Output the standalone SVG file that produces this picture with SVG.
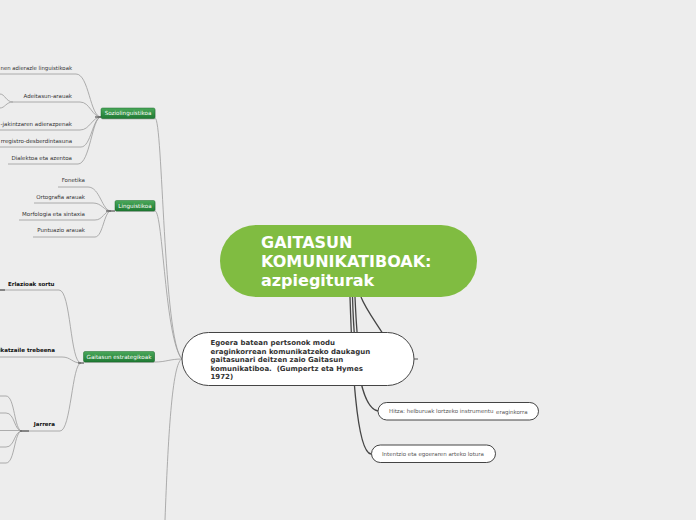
<svg xmlns="http://www.w3.org/2000/svg" width="696" height="520" viewBox="0 0 696 520">
<defs>
<linearGradient id="gr" x1="0" y1="0" x2="0" y2="1">
<stop offset="0" stop-color="#4aa85a"/>
<stop offset="1" stop-color="#1f7a33"/>
</linearGradient>
<style>
.thin{fill:none;stroke:#9a9a9a;stroke-width:0.8}
.stub{fill:none;stroke:#555;stroke-width:1.2}
.dark{fill:none;stroke:#454545;stroke-width:1.3}
.lbl{font-family:"DejaVu Sans",Verdana,sans-serif;font-size:5.5px;fill:#333;text-anchor:end}
.blbl{font-family:"DejaVu Sans",Verdana,sans-serif;font-size:5.5px;font-weight:bold;fill:#111;text-anchor:end}
.gn rect.b{fill:url(#gr);stroke:#1b6b2a;stroke-width:0.5}
.gn rect.s{fill:#bbb}
.gn text{font-family:"DejaVu Sans",Verdana,sans-serif;font-size:5.6px;fill:#fff;text-anchor:middle}
.wn{fill:#fff;stroke:#444;stroke-width:1}
.sm{font-family:"DejaVu Sans",Verdana,sans-serif;font-size:5.5px;fill:#555}
</style>
</defs>
<rect width="696" height="520" fill="#ededed"/>

<g id="connectors">
<!-- central to right nodes -->
<path class="dark" d="M350,297 C352,360 356,452 371,454"/>
<path class="dark" d="M352.5,297 C354,350 360,408 378,411"/>
<path class="dark" d="M355,297 C356,320 357,340 360,360"/>
<path class="dark" d="M361,297 C366,310 376,322 390,345"/>
<!-- white node to left branches -->
<path class="thin" d="M155,118 C163,118 163,340 182,359"/>
<path class="thin" d="M155,211 C163,211 165,340 182,359"/>
<path class="thin" d="M155,362 C166,362 170,359 182,359"/>
<path class="thin" d="M182,359 C172,362 168,440 165,520"/>
<!-- Soziolinguistikoa children -->
<path class="thin" d="M0,74 H76 C89,74 90,117 101,117"/>
<path class="thin" d="M13,102 H80 C90,102 92,117 101,117"/>
<path class="thin" d="M0,130 H80 C90,130 92,117 101,117"/>
<path class="thin" d="M0,147 H81 C91,147 93,117 101,117"/>
<path class="thin" d="M8,164 H78 C90,164 92,117 101,117"/>
<path class="thin" d="M13,102 C6,102 5,94 0,94"/>
<path class="thin" d="M13,102 C6,102 5,108 0,108"/>
<path class="stub" d="M95,117 H101"/>
<!-- Linguistikoa children -->
<path class="thin" d="M58,187 H88 C100,187 102,211 111,211"/>
<path class="thin" d="M34,203 H93 C102,203 104,211 111,211"/>
<path class="thin" d="M19,220 H95 C103,220 104,211 111,211"/>
<path class="thin" d="M33,237 H95 C103,237 104,211 111,211"/>
<path class="stub" d="M106,211 H115"/>
<!-- Gaitasun estrategikoak children -->
<path class="thin" d="M0,290 H59 C71,290 70,363 81,363"/>
<path class="thin" d="M0,357 H62 C71,357 72,363 81,363"/>
<path class="thin" d="M22,431 H60 C71,431 72,363 81,363"/>
<path class="stub" d="M0,290 H5"/>
<path class="stub" d="M78,363 H84"/>
<!-- Jarrera children -->
<path class="thin" d="M0,396 H6 C15,396 14,431 22,431"/>
<path class="thin" d="M0,413 H6 C15,413 14,431 22,431"/>
<path class="thin" d="M0,430.5 H22"/>
<path class="thin" d="M0,447 H6 C15,447 14,431 22,431"/>
<path class="thin" d="M0,463 H6 C15,463 14,431 22,431"/>
<path class="stub" d="M20,431 H29"/>
</g>

<g id="central">
<rect x="220" y="225" width="257" height="72" rx="36" fill="#80bc41"/>
<text font-family="'DejaVu Sans',Verdana,sans-serif" font-size="16" font-weight="bold" fill="#fff">
<tspan x="261" y="248.3">GAITASUN</tspan>
<tspan x="261" y="267.3">KOMUNIKATIBOAK:</tspan>
<tspan x="261" y="286">azpiegiturak</tspan>
</text>
</g>

<g id="definizioa">
<rect class="wn" x="182" y="332.5" width="232" height="53" rx="26.5"/>
<line x1="414" y1="359" x2="418" y2="359" stroke="#555" stroke-width="1"/>
<text font-family="'DejaVu Sans',Verdana,sans-serif" font-size="7" font-weight="bold" fill="#333">
<tspan x="210.5" y="345.3">Egoera batean pertsonok modu</tspan>
<tspan x="210.5" y="353.8">eraginkorrean komunikatzeko daukagun</tspan>
<tspan x="210.5" y="362.3">gaitasunari deitzen zaio Gaitasun</tspan>
<tspan x="210.5" y="370.8">komunikatiboa.&#160; (Gumpertz eta Hymes</tspan>
<tspan x="210.5" y="379.3">1972)</tspan>
</text>
</g>

<g id="hitza">
<rect class="wn" x="378" y="402.5" width="160.5" height="17.5" rx="8.75"/>
<text class="sm" x="389" y="412.7">Hitza: helburuak lortzeko instrumentu</text>
<text class="sm" x="496" y="414.2">eraginkorra</text>
</g>

<g id="intentzio">
<rect class="wn" x="371.5" y="445" width="124" height="17.5" rx="8.75"/>
<text class="sm" x="382" y="455.5">Intentzio eta egoeraren arteko lotura</text>
</g>

<g id="soziolinguistikoa" class="gn">
<rect class="s" x="101.5" y="109" width="54" height="10.5" rx="1.5"/>
<rect class="b" x="101" y="108" width="54" height="10.5" rx="1.5"/>
<text x="128" y="115.3">Soziolinguistikoa</text>
</g>
<g id="linguistikoa" class="gn">
<rect class="s" x="115.5" y="201.5" width="40" height="10.5" rx="1.5"/>
<rect class="b" x="115" y="200.5" width="40" height="10.5" rx="1.5"/>
<text x="135" y="207.8">Linguistikoa</text>
</g>
<g id="estrategikoak" class="gn">
<rect class="s" x="84" y="352.5" width="71" height="10.5" rx="1.5"/>
<rect class="b" x="83.5" y="351.5" width="71" height="10.5" rx="1.5"/>
<text x="119" y="358.8">Gaitasun estrategikoak</text>
</g>

<g id="sozio-children">
<text class="lbl" x="0.5" y="69.5" style="text-anchor:start" textLength="71.5" lengthAdjust="spacingAndGlyphs">nen adierazle linguistikoak</text>
<text class="lbl" x="72" y="97.5">Adeitasun-arauak</text>
<text class="lbl" x="72" y="125.7">-jakintzaren adierazpenak</text>
<text class="lbl" x="72" y="142.5">rregistro-desberdintasuna</text>
<text class="lbl" x="72" y="159.5">Dialektoa eta azentoa</text>
</g>
<g id="ling-children">
<text class="lbl" x="85" y="182">Fonetika</text>
<text class="lbl" x="85" y="198.5">Ortografia arauak</text>
<text class="lbl" x="85" y="215.5">Morfologia eta sintaxia</text>
<text class="lbl" x="85" y="232">Puntuazio arauak</text>
</g>
<g id="estr-children">
<text class="blbl" x="54.5" y="285.8">Erlazioak sortu</text>
<text class="blbl" x="55" y="352">ikatzaile trebeena</text>
<text class="blbl" x="55" y="426">Jarrera</text>
</g>
</svg>
